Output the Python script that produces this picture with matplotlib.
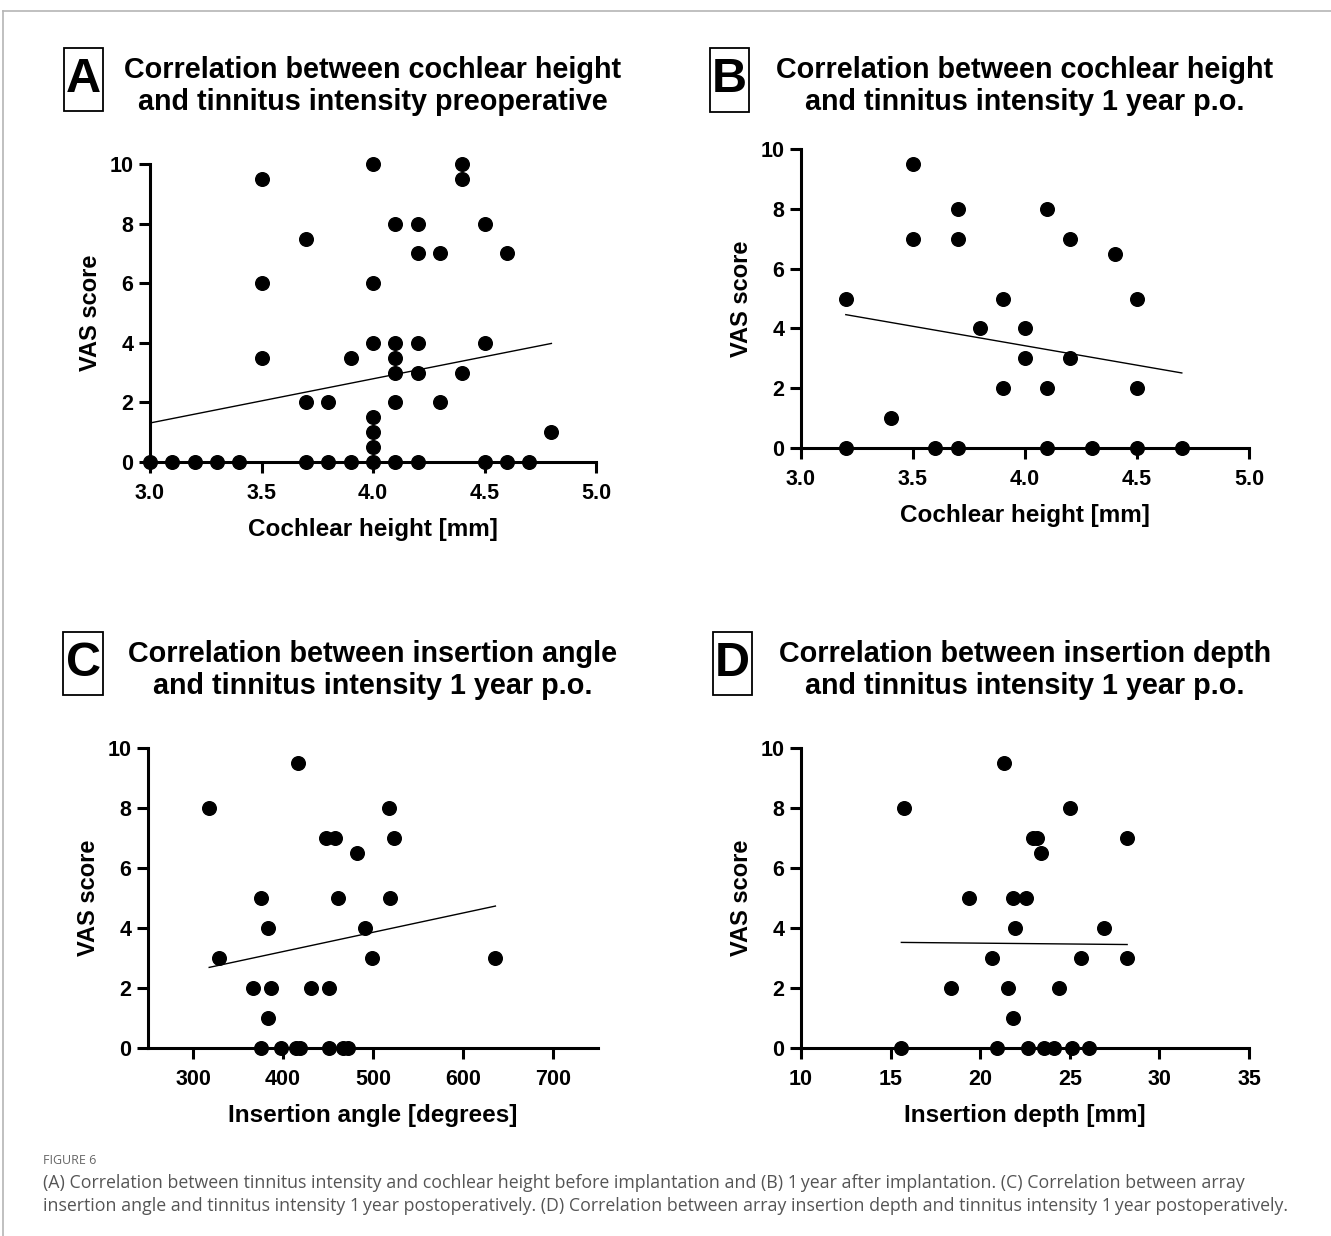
import numpy as np
import matplotlib.pyplot as plt
from matplotlib.patches import Rectangle
from matplotlib.lines import Line2D

plt.rcParams['font.family'] = ['Liberation Sans', 'DejaVu Sans']

# Panel A: cochlear height vs VAS preoperative
a_x = [3.0, 3.1, 3.2, 3.3, 3.4, 3.7, 3.8, 3.9, 4.0, 4.1, 4.2, 4.5, 4.6, 4.7,
       3.5, 3.5, 3.5, 3.7, 3.7, 3.8, 3.9,
       4.0, 4.0, 4.0, 4.0, 4.0, 4.0,
       4.1, 4.1, 4.1, 4.1, 4.1,
       4.2, 4.2, 4.2, 4.2,
       4.3, 4.3, 4.4, 4.4, 4.4, 4.5, 4.5, 4.6, 4.8]
a_y = [0, 0, 0, 0, 0, 0, 0, 0, 0, 0, 0, 0, 0, 0,
       9.5, 6, 3.5, 7.5, 2, 2, 3.5,
       10, 6, 4, 1.5, 1, 0.5,
       8, 4, 3.5, 3, 2,
       8, 7, 4, 3,
       7, 2, 10, 9.5, 3, 8, 4, 7, 1]

# Panel B: cochlear height vs VAS 1 year p.o.
b_x = [3.2, 3.2, 3.4, 3.5, 3.5, 3.6, 3.7, 3.7, 3.7, 3.8, 3.9, 3.9, 4.0, 4.0,
       4.1, 4.1, 4.1, 4.2, 4.2, 4.3, 4.4, 4.5, 4.5, 4.5, 4.7]
b_y = [5, 0, 1, 9.5, 7, 0, 8, 7, 0, 4, 5, 2, 4, 3,
       8, 2, 0, 7, 3, 0, 6.5, 5, 2, 0, 0]

# Panel C: insertion angle vs VAS 1 year p.o.
c_x = [318, 329, 367, 375, 376, 383, 383, 387, 398, 414, 417, 419, 431, 448,
       451, 451, 458, 461, 467, 472, 482, 491, 499, 518, 519, 523, 636]
c_y = [8, 3, 2, 5, 0, 4, 1, 2, 0, 0, 9.5, 0, 2, 7,
       0, 2, 7, 5, 0, 0, 6.5, 4, 3, 8, 5, 7, 3]

# Panel D: insertion depth vs VAS 1 year p.o.
d_x = [15.75, 15.6, 18.35, 19.35, 20.65, 20.95, 21.35, 21.55, 21.85, 21.85,
       21.95, 22.55, 22.65, 22.95, 23.15, 23.4, 23.55, 24.1, 24.4, 25.0,
       25.15, 25.65, 26.05, 26.9, 28.2, 28.2]
d_y = [8, 0, 2, 5, 3, 0, 9.5, 2, 5, 1,
       4, 5, 0, 7, 7, 6.5, 0, 0, 2, 8,
       0, 3, 0, 4, 7, 3]

# regression lines: (slope, intercept)
fits = [(1.483, -3.14), (-1.30, 8.62), (0.00643, 0.642), (-0.0056, 3.607)]

letters = ['A', 'B', 'C', 'D']
titles = ['Correlation between cochlear height\nand tinnitus intensity preoperative',
          'Correlation between cochlear height\nand tinnitus intensity 1 year p.o.',
          'Correlation between insertion angle\nand tinnitus intensity 1 year p.o.',
          'Correlation between insertion depth\nand tinnitus intensity 1 year p.o.']
xlabels = ['Cochlear height [mm]', 'Cochlear height [mm]',
           'Insertion angle [degrees]', 'Insertion depth [mm]']
xlims = [(3.0, 5.0), (3.0, 5.0), (250, 750), (10, 35)]
xticks = [[3.0, 3.5, 4.0, 4.5, 5.0], [3.0, 3.5, 4.0, 4.5, 5.0],
          [300, 400, 500, 600, 700], [10, 15, 20, 25, 30, 35]]
xticklabels = [['3.0', '3.5', '4.0', '4.5', '5.0'], ['3.0', '3.5', '4.0', '4.5', '5.0'],
               ['300', '400', '500', '600', '700'], ['10', '15', '20', '25', '30', '35']]
yticks = [0, 2, 4, 6, 8, 10]
data = [(a_x, a_y), (b_x, b_y), (c_x, c_y), (d_x, d_y)]

W, H = 1331, 1236
fig = plt.figure(figsize=(W / 100, H / 100), dpi=100)

# axes boxes in pixels: left, right, top, bottom
boxes = [(150, 596, 164, 462), (801, 1249, 149, 448),
         (148, 598, 748, 1048), (801, 1249, 748, 1048)]
# letter boxes in pixels: left, right, top, bottom
lboxes = [(64, 103, 48, 111), (710, 749, 48, 112),
          (63, 103, 632, 695), (713, 752, 632, 695)]
title_y = [86, 86, 670, 670]

for i in range(4):
    l, r, t, b = boxes[i]
    ax = fig.add_axes([l / W, 1 - b / H, (r - l) / W, (b - t) / H])
    x, y = data[i]
    ax.plot(x, y, 'o', color='black', markersize=9.8, clip_on=False, zorder=3)
    k, c0 = fits[i]
    xf = np.array([min(x), max(x)])
    ax.plot(xf, k * xf + c0, color='black', lw=1.0)
    ax.set_xlim(*xlims[i])
    ax.set_ylim(0, 10)
    ax.set_xticks(xticks[i])
    ax.set_xticklabels(xticklabels[i])
    ax.set_yticks(yticks)
    for s in ['top', 'right']:
        ax.spines[s].set_visible(False)
    for s in ['left', 'bottom']:
        ax.spines[s].set_linewidth(2.2)
    ax.tick_params(width=2.2, length=8, labelsize=15.5)
    ax.tick_params(axis='x', pad=7)
    ax.tick_params(axis='y', pad=4)
    for lab in ax.get_xticklabels() + ax.get_yticklabels():
        lab.set_fontweight('bold')
    ax.set_xlabel(xlabels[i], fontsize=17.5, fontweight='bold', labelpad=10)
    ax.set_ylabel('VAS score', fontsize=17, fontweight='bold', labelpad=5)

    # panel letter in a box
    bl, br, bt, bb = lboxes[i]
    fig.patches.append(Rectangle((bl / W, 1 - bb / H), (br - bl) / W, (bb - bt) / H,
                                 transform=fig.transFigure, fill=False,
                                 edgecolor='black', lw=1.3))
    fig.text((bl + br) / 2 / W, 1 - (bt + bb) / 2 / H, letters[i], fontsize=35,
             fontweight='bold', ha='center', va='center')
    fig.text((l + r) / 2 / W, 1 - title_y[i] / H, titles[i], fontsize=20.7,
             fontweight='bold', ha='center', va='center', linespacing=1.22)

# outer frame lines
fig.add_artist(Line2D([3 / W, 1], [1 - 11 / H, 1 - 11 / H], color='#b5b5b5', lw=1.2))
fig.add_artist(Line2D([3 / W, 3 / W], [0, 1 - 11 / H], color='#b5b5b5', lw=1.2))

cap_font = ['Open Sans', 'DejaVu Sans']
fig.text(43 / W, 1 - 1160 / H, 'FIGURE 6', fontsize=9, color='#666666',
         family=cap_font, va='center')
fig.text(43 / W, 1 - 1183 / H,
         '(A) Correlation between tinnitus intensity and cochlear height before implantation and (B) 1\u2009year after implantation. (C) Correlation between array',
         fontsize=12.75, color='#555555', family=cap_font, va='center')
fig.text(43 / W, 1 - 1206 / H,
         'insertion angle and tinnitus intensity 1\u2009year postoperatively. (D) Correlation between array insertion depth and tinnitus intensity 1\u2009year postoperatively.',
         fontsize=12.75, color='#555555', family=cap_font, va='center')

fig.savefig('out.png', dpi=100)
